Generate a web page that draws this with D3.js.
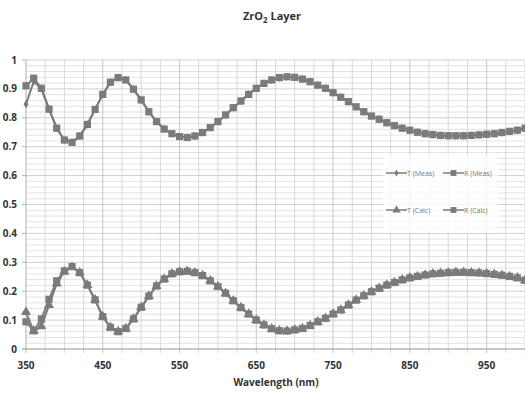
<!DOCTYPE html>
<html>
<head>
<meta charset="utf-8">
<script src="https://cdn.jsdelivr.net/npm/d3@7"></script>
<style>
  body { margin: 0; background: #fff; }
  text { font-family: "Open Sans", sans-serif; }
</style>
</head>
<body>
<div id="main"></div>
<script>
// wavelengths, 10 nm steps
const wavelengths = d3.range(350, 1001, 10);

// upper curve (squares) and the measured diamonds that differ at the start
const upperCurve = [
    0.911, 0.937, 0.902, 0.830, 0.764, 0.723, 0.715, 0.737, 0.777, 0.829,
    0.881, 0.923, 0.939, 0.931, 0.899, 0.862, 0.821, 0.787, 0.761, 0.745,
    0.735, 0.732, 0.737, 0.749, 0.766, 0.787, 0.810, 0.835, 0.858, 0.881,
    0.902, 0.919, 0.931, 0.939, 0.942, 0.940, 0.934, 0.925, 0.913, 0.902,
    0.887, 0.871, 0.856, 0.838, 0.821, 0.806, 0.795, 0.783, 0.773, 0.764,
    0.757, 0.750, 0.745, 0.742, 0.739, 0.738, 0.738, 0.738, 0.739, 0.741,
    0.743, 0.745, 0.749, 0.753, 0.757, 0.764
];
const upperDiamonds = [
    0.847, 0.925, 0.902, 0.830, 0.764, 0.723, 0.715, 0.737, 0.777, 0.829,
    0.881, 0.923, 0.939, 0.931, 0.899, 0.862, 0.821, 0.787, 0.761, 0.745,
    0.735, 0.732, 0.737, 0.749, 0.766, 0.787, 0.810, 0.835, 0.858, 0.881,
    0.902, 0.919, 0.931, 0.939, 0.942, 0.940, 0.934, 0.925, 0.913, 0.902,
    0.887, 0.871, 0.856, 0.838, 0.821, 0.806, 0.795, 0.783, 0.773, 0.764,
    0.757, 0.750, 0.745, 0.742, 0.739, 0.738, 0.738, 0.738, 0.739, 0.741,
    0.743, 0.745, 0.749, 0.753, 0.757, 0.764
];

// lower curve (squares) and the triangles
const lowerCurve = [
    0.094, 0.063, 0.104, 0.172, 0.236, 0.270, 0.285, 0.264, 0.221, 0.170,
    0.112, 0.075, 0.060, 0.071, 0.104, 0.144, 0.183, 0.218, 0.242, 0.260,
    0.267, 0.269, 0.264, 0.254, 0.236, 0.216, 0.193, 0.167, 0.143, 0.121,
    0.100, 0.083, 0.070, 0.063, 0.062, 0.066, 0.071, 0.081, 0.094, 0.106,
    0.121, 0.135, 0.152, 0.169, 0.184, 0.198, 0.210, 0.221, 0.230, 0.239,
    0.246, 0.251, 0.256, 0.260, 0.262, 0.264, 0.265, 0.265, 0.264, 0.263,
    0.261, 0.258, 0.255, 0.251, 0.246, 0.238
];
const lowerTriangles = [
    0.128, 0.062, 0.078, 0.152, 0.226, 0.268, 0.283, 0.264, 0.221, 0.170,
    0.112, 0.075, 0.060, 0.071, 0.104, 0.144, 0.183, 0.218, 0.242, 0.260,
    0.267, 0.269, 0.264, 0.254, 0.236, 0.216, 0.193, 0.167, 0.143, 0.121,
    0.100, 0.083, 0.070, 0.063, 0.062, 0.066, 0.071, 0.081, 0.094, 0.106,
    0.121, 0.135, 0.152, 0.169, 0.184, 0.198, 0.210, 0.221, 0.230, 0.239,
    0.246, 0.251, 0.256, 0.260, 0.262, 0.264, 0.265, 0.265, 0.264, 0.263,
    0.261, 0.258, 0.255, 0.251, 0.246, 0.238
];

const xTicks = [350, 450, 550, 650, 750, 850, 950];
const yTicks = [0, 0.1, 0.2, 0.3, 0.4, 0.5, 0.6, 0.7, 0.8, 0.9, 1];
const legendLabels = ["T (Meas)", "R (Meas)", "T (Calc)", "R (Calc)"];

const ctx = {
    w: 525,
    h: 394,
    left: 26,
    right: 525,
    top: 60,
    bottom: 349,
    grey: "#7b7b7b",
};

function createViz() {
    let svg = d3.select("#main").append("svg")
        .attr("width", ctx.w)
        .attr("height", ctx.h);

    let x = d3.scaleLinear().domain([350, 1000]).range([ctx.left, ctx.right]);
    let y = d3.scaleLinear().domain([0, 1]).range([ctx.bottom, ctx.top]);

    // grid
    let grid = svg.append("g");
    grid.selectAll("line.hg")
        .data(d3.range(0, 51).map(i => i / 50))
        .enter().append("line")
        .attr("x1", ctx.left).attr("x2", ctx.right)
        .attr("y1", d => y(d)).attr("y2", d => y(d))
        .style("stroke", (d, i) => i % 5 == 0 ? "#cfcfcf" : "#e3e3e3")
        .style("stroke-width", 1);
    grid.selectAll("line.vg")
        .data(d3.range(375, 1001, 25))
        .enter().append("line")
        .attr("x1", d => x(d)).attr("x2", d => x(d))
        .attr("y1", ctx.top).attr("y2", ctx.bottom + 4)
        .style("stroke", (d) => (d - 350) % 100 == 0 ? "#c8c8c8" : "#d8d8d8")
        .style("stroke-width", 1);

    // axes lines
    svg.append("line")
        .attr("x1", ctx.left).attr("x2", ctx.left)
        .attr("y1", ctx.top).attr("y2", ctx.bottom + 4)
        .style("stroke", "#b0b0b0");
    svg.append("line")
        .attr("x1", ctx.left - 4).attr("x2", ctx.right)
        .attr("y1", ctx.bottom).attr("y2", ctx.bottom)
        .style("stroke", "#a8a8a8");
    svg.selectAll("line.yt")
        .data(yTicks)
        .enter().append("line")
        .attr("x1", ctx.left - 4).attr("x2", ctx.left)
        .attr("y1", d => y(d)).attr("y2", d => y(d))
        .style("stroke", "#b0b0b0");

    // tick labels
    svg.selectAll("text.ylab")
        .data(yTicks)
        .enter().append("text")
        .attr("x", 17)
        .attr("y", d => y(d) + 3.5)
        .attr("text-anchor", "end")
        .style("font-size", "10px")
        .style("font-weight", "bold")
        .style("fill", "#333")
        .text(d => d3.format("")(d));

    svg.selectAll("text.xlab")
        .data(xTicks)
        .enter().append("text")
        .attr("x", d => x(d))
        .attr("y", 369)
        .attr("text-anchor", "middle")
        .style("font-size", "10px")
        .style("font-weight", "bold")
        .style("fill", "#333")
        .text(d => d);

    svg.append("text")
        .attr("x", 276)
        .attr("y", 386)
        .attr("text-anchor", "middle")
        .style("font-size", "10px")
        .style("font-weight", "bold")
        .style("fill", "#333")
        .text("Wavelength (nm)");

    // title
    let title = svg.append("text")
        .attr("x", 272)
        .attr("y", 20)
        .attr("text-anchor", "middle")
        .style("font-size", "11px")
        .style("font-weight", "bold")
        .style("fill", "#333");
    title.append("tspan").text("ZrO");
    title.append("tspan").attr("dy", 3).style("font-size", "8px").text("2");
    title.append("tspan").attr("dy", -3).text(" Layer");

    // series
    let series = [
        { vals: upperDiamonds, sym: d3.symbolDiamond, size: 20 },
        { vals: lowerCurve, sym: d3.symbolSquare, size: 52 },
        { vals: lowerTriangles, sym: d3.symbolTriangle, size: 44 },
        { vals: upperCurve, sym: d3.symbolSquare, size: 52 },
    ];

    let line = d3.line()
        .x((d, i) => x(wavelengths[i]))
        .y(d => y(d));

    let plot = svg.append("g");
    series.forEach(s => {
        plot.append("path")
            .datum(s.vals)
            .attr("d", line)
            .style("fill", "none")
            .style("stroke", ctx.grey)
            .style("stroke-width", 2);
        plot.selectAll(null)
            .data(s.vals)
            .enter().append("path")
            .attr("transform", (d, i) => `translate(${x(wavelengths[i])},${y(d)})`)
            .attr("d", d3.symbol().type(s.sym).size(s.size))
            .style("fill", ctx.grey);
    });

    // legend
    let leg = svg.append("g");
    leg.append("rect")
        .attr("x", 383).attr("y", 155)
        .attr("width", 115).attr("height", 78)
        .style("fill", "#fff")
        .style("opacity", 0.75);

    let legSyms = [
        { sym: d3.symbolDiamond, size: 14 },
        { sym: d3.symbolSquare, size: 34 },
        { sym: d3.symbolTriangle, size: 30 },
        { sym: d3.symbolSquare, size: 34 },
    ];
    legendLabels.forEach((lab, i) => {
        let lx = 386 + (i % 2) * 57;
        let ly = 173 + Math.floor(i / 2) * 37;
        leg.append("line")
            .attr("x1", lx).attr("x2", lx + 21)
            .attr("y1", ly).attr("y2", ly)
            .style("stroke", ctx.grey)
            .style("stroke-width", 1.5);
        leg.append("path")
            .attr("transform", `translate(${lx + 10.5},${ly})`)
            .attr("d", d3.symbol().type(legSyms[i].sym).size(legSyms[i].size))
            .style("fill", ctx.grey);
        leg.append("text")
            .attr("x", lx + 21)
            .attr("y", ly + 2.5)
            .style("font-size", "7px")
            .style("fill", "#777")
            .text(lab);
    });
}

createViz();
</script>
</body>
</html>
